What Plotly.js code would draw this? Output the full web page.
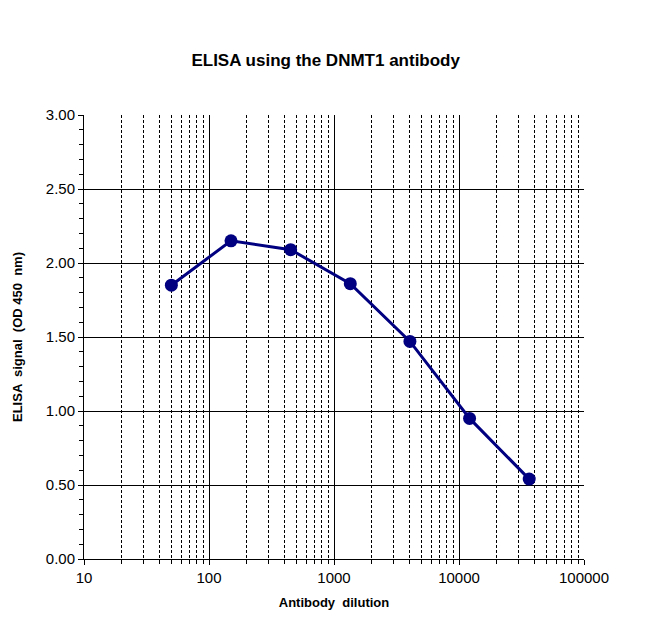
<!DOCTYPE html>
<html>
<head>
<meta charset="utf-8">
<script src="https://cdn.plot.ly/plotly-3.0.1.min.js"></script>
<style>
	body { margin: 0; background: #fff; }
	#chart { width: 658px; height: 619px; }
</style>
</head>
<body>
<div id="chart"></div>
<script>
// antibody dilution vs ELISA signal
const dilution = [50, 150, 450, 1350, 4050, 12150, 36450]
const signal = [1.85, 2.15, 2.09, 1.86, 1.47, 0.95, 0.54]

const font = 'Liberation Sans, Arial, sans-serif'

Plotly.newPlot('chart', [
	{
		x: dilution,
		y: signal,
		type: 'scatter',
		mode: 'lines+markers',
		line: { color: '#000080', width: 3 },
		marker: { color: '#000080', size: 13 },
		showlegend: false,
	},
], {
	width: 658,
	height: 619,
	margin: { l: 84, r: 74, t: 115, b: 60 },
	paper_bgcolor: '#fff',
	plot_bgcolor: '#fff',
	font: { family: font, color: '#000' },
	title: {
		text: '<b>ELISA using the DNMT1 antibody</b>',
		font: { size: 17 },
		x: 0.495,
		xanchor: 'center',
		y: 0.903,
		yanchor: 'middle',
	},
	xaxis: {
		type: 'log',
		range: [1, 5],
		dtick: 1,
		tickformat: 'd',
		showgrid: true,
		gridcolor: '#000',
		gridwidth: 1,
		showline: true,
		linecolor: '#000',
		linewidth: 1,
		ticks: 'outside',
		ticklen: 5,
		tickcolor: '#000',
		tickfont: { size: 15 },
		zeroline: false,
		minor: {
			dtick: 'D1',
			showgrid: true,
			gridcolor: '#000',
			griddash: '3px,2px',
			gridwidth: 1,
			ticks: 'outside',
			ticklen: 4,
			tickcolor: '#000',
		},
		title: { text: '<b>Antibody  dilution</b>', font: { size: 13 }, standoff: 12 },
	},
	yaxis: {
		range: [0, 3],
		dtick: 0.5,
		tickformat: '.2f',
		showgrid: true,
		gridcolor: '#000',
		gridwidth: 1,
		showline: true,
		linecolor: '#000',
		linewidth: 1,
		ticks: 'outside',
		ticklen: 5,
		tickcolor: '#000',
		tickfont: { size: 15 },
		zeroline: false,
		minor: {
			dtick: 0.1,
			ticks: 'outside',
			ticklen: 4,
			tickcolor: '#000',
			showgrid: false,
		},
		title: { text: '<b>ELISA  signal  (OD 450  nm)</b>', font: { size: 13 }, standoff: 20 },
	},
}, { displayModeBar: false })
</script>
</body>
</html>
